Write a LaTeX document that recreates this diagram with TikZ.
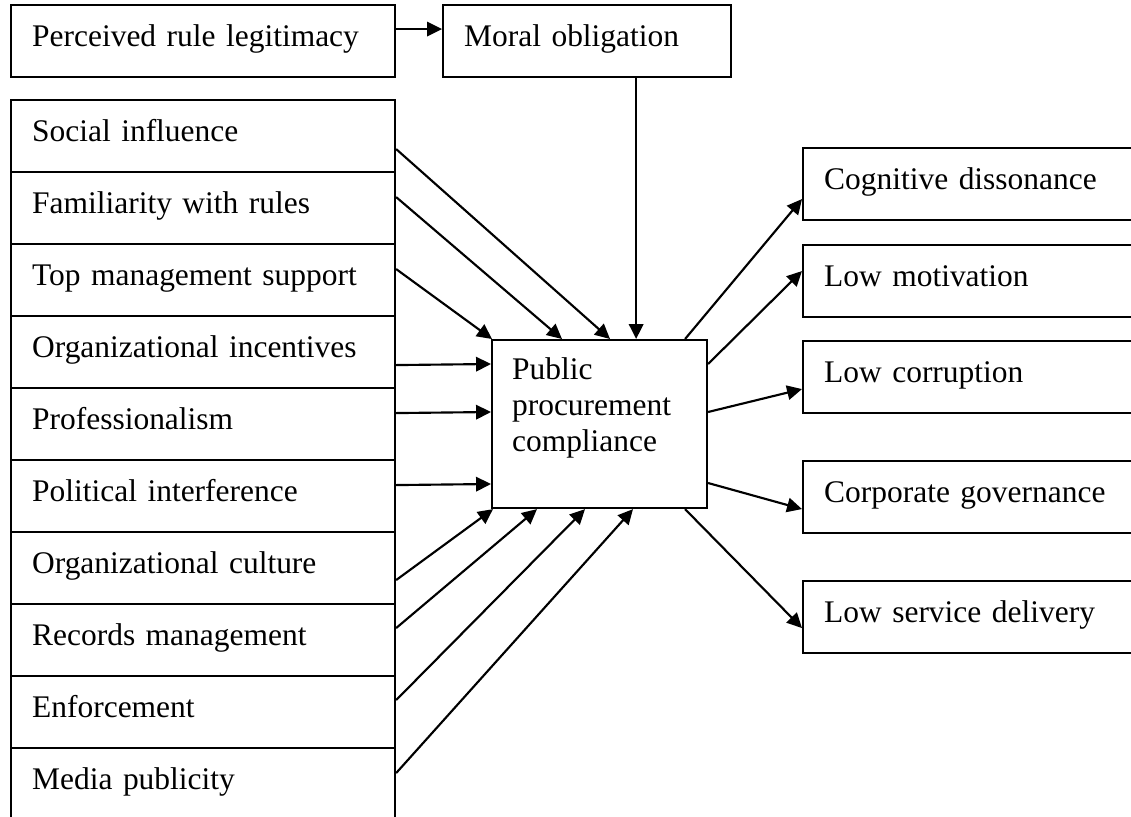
\documentclass[tikz,border=0pt]{standalone}
\usepackage{fontspec}
\setmainfont{Liberation Serif}
\usetikzlibrary{
	arrows.meta,
	positioning,
	calc
}
\tikzstyle{arrow} = [line width=0.8pt, -{Triangle[length=5.6pt, width=5.4pt]}]
\tikzstyle{info} = [rectangle, draw=black, line width=0.8pt, align=left, anchor=north west,
	inner xsep=7.9pt, inner ysep=0pt, text height=15.4pt, text depth=11.6pt,
	font=\fontsize{11.8}{13.5}\selectfont]
\tikzstyle{factor} = [info, text width=128.2pt]
\tikzstyle{outcome} = [info, text width=134.2pt]

\begin{document}
\begin{tikzpicture}[x=0.375pt, y=-0.375pt]
		
		\useasboundingbox (0,0) rectangle (1131,817);
		\clip (0,0) rectangle (1131,817);
		
		% ====== Ligne du haut ======
		\node[factor] (prl) at (10,4) {Perceived rule legitimacy};
		\node[info, text width=92.2pt] (mo) at (442,4) {Moral obligation};
		
		% ====== Facteurs (colonne gauche) ======
		\node[factor] (soc) at (10,99) {Social influence};
		\node[factor] (fam) at (10,171) {Familiarity with rules};
		\node[factor] (top) at (10,243) {Top management support};
		\node[factor] (inc) at (10,315) {Organizational incentives};
		\node[factor] (pro) at (10,387) {Professionalism};
		\node[factor] (pol) at (10,459) {Political interference};
		\node[factor] (cul) at (10,531) {Organizational culture};
		\node[factor] (rec) at (10,603) {Records management};
		\node[factor] (enf) at (10,675) {Enforcement};
		\node[factor] (med) at (10,747) {Media publicity};
		
		% ====== Bloc central ======
		\node[info, text width=65.6pt, inner xsep=7.5pt, text height=14.6pt, text depth=48.4pt]
		(ppc) at (491,339) {Public\\ procurement\\ compliance};
		
		% ====== Effets (colonne droite) ======
		\node[outcome] (cog) at (802,147) {Cognitive dissonance};
		\node[outcome] (mot) at (802,244) {Low motivation};
		\node[outcome] (cor) at (802,340) {Low corruption};
		\node[outcome] (gov) at (802,460) {Corporate governance};
		\node[outcome] (del) at (802,580) {Low service delivery};
		
		% ====== Liaisons du haut ======
		\draw[arrow] ($(prl.east)+(0,-12)$) -- ($(mo.west)+(0,-12)$);
		\coordinate (m) at ($(mo.south east)+(-96,0)$);
		\draw[arrow] (m) -- (m |- ppc.north);
		
		% ====== Facteurs -> conformite ======
		\draw[arrow] ($(soc.east)+(0,13)$) -- ($(ppc.north west)+(119,0)$);
		\draw[arrow] ($(fam.east)+(0,-11)$) -- ($(ppc.north west)+(71,0)$);
		\draw[arrow] ($(top.east)+(0,-11)$) -- ($(ppc.north west)+(1,0)$);
		\draw[arrow] ($(inc.east)+(0,13)$) -- ($(ppc.north west)+(0,25)$);
		\draw[arrow] ($(pro.east)+(0,-11)$) -- ($(ppc.north west)+(0,73)$);
		\draw[arrow] ($(pol.east)+(0,-11)$) -- ($(ppc.north west)+(0,145)$);
		\draw[arrow] ($(cul.east)+(0,12)$) -- ($(ppc.south west)+(2,0)$);
		\draw[arrow] ($(rec.east)+(0,-12)$) -- ($(ppc.south west)+(46,0)$);
		\draw[arrow] ($(enf.east)+(0,-12)$) -- ($(ppc.south west)+(94,0)$);
		\draw[arrow] ($(med.east)+(0,-11)$) -- ($(ppc.south west)+(142,0)$);
		
		% ====== Conformite -> effets ======
		\draw[arrow] ($(ppc.north east)+(-23,0)$) -- ($(cog.west)+(0,15)$);
		\draw[arrow] ($(ppc.north east)+(0,25)$) -- ($(mot.west)+(0,-10)$);
		\draw[arrow] ($(ppc.north east)+(0,73)$) -- ($(cor.west)+(0,12)$);
		\draw[arrow] ($(ppc.north east)+(0,144)$) -- ($(gov.west)+(0,12)$);
		\draw[arrow] ($(ppc.south east)+(-23,0)$) -- ($(del.west)+(0,11)$);
		
	\end{tikzpicture}
\end{document}
